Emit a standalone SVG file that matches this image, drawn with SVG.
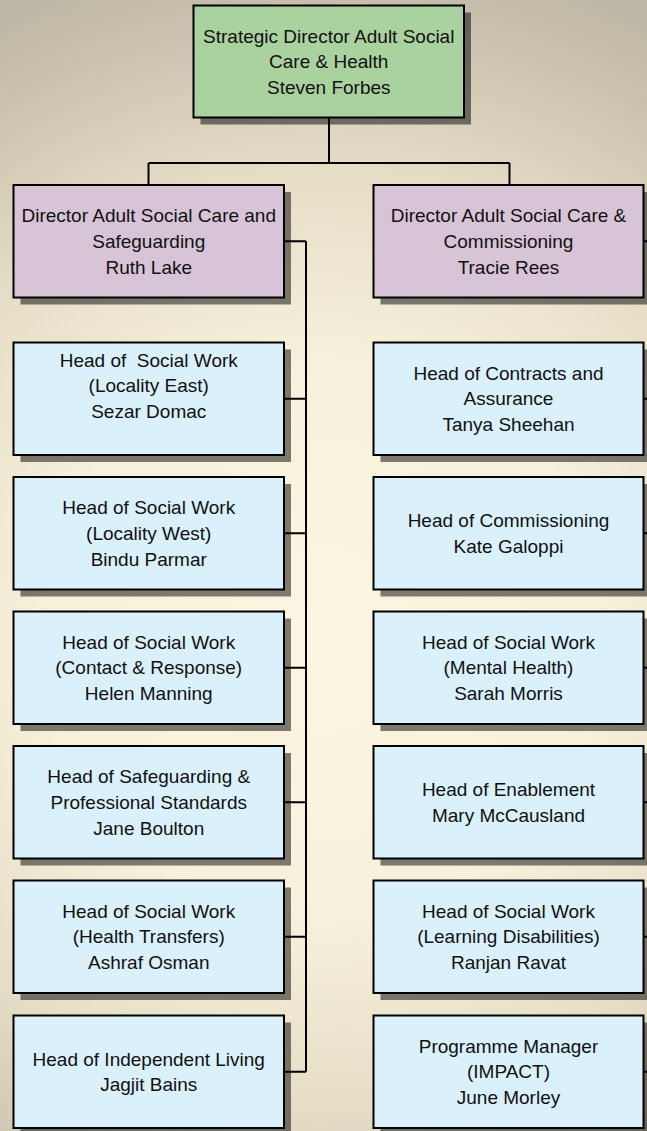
<svg xmlns="http://www.w3.org/2000/svg" width="647" height="1131" viewBox="0 0 647 1131">
<defs>
<radialGradient id="bg" gradientUnits="userSpaceOnUse" cx="323" cy="640" r="700">
<stop offset="0" stop-color="#fcf5e1"/>
<stop offset="0.4" stop-color="#f7f0da"/>
<stop offset="0.67" stop-color="#e5ddc6"/>
<stop offset="0.75" stop-color="#dbd3bd"/>
<stop offset="0.9" stop-color="#c9c1ae"/>
<stop offset="1" stop-color="#bfb7a5"/>
</radialGradient>
<style>
.sh{fill:#000;fill-opacity:0.5}
.bx{stroke:#000;stroke-width:2}
.g{fill:#aad29f}
.p{fill:#d7c4d6}
.b{fill:#daf0fb}
text{font-family:"Liberation Sans",Arial,sans-serif;font-size:19px;fill:#111;text-anchor:middle;white-space:pre}
.c{fill:none;stroke:#000;stroke-width:2}
</style>
</defs>
<rect width="647" height="1131" fill="url(#bg)"/>

<g id="connectors" class="c">
<path d="M329 117.5V163M148.5 163H509.5M148.5 163V185M509.5 163V185"/>
<path d="M306 241.25V1071.75"/>
<path d="M284 241.25H306M284 398.75H306M284 533.25H306M284 667.75H306M284 802.25H306M284 936.75H306M284 1071.75H306"/>
<path d="M643.5 241.25H647M643.5 398.75H647M643.5 533.25H647M643.5 667.75H647M643.5 802.25H647M643.5 936.75H647M643.5 1071.75H647"/>
</g>

<g id="n-strategic">
<rect class="sh" x="200.5" y="12.5" width="270.5" height="112"/>
<rect class="bx g" x="193.5" y="5.5" width="270.5" height="112"/>
<text x="328.75" y="42.5">Strategic Director Adult Social</text>
<text x="328.75" y="68.2">Care &amp; Health</text>
<text x="328.75" y="93.9">Steven Forbes</text>
</g>

<g id="n-dir-left">
<rect class="sh" x="20.5" y="192" width="270.5" height="112.5"/>
<rect class="bx p" x="13.5" y="185" width="270.5" height="112.5"/>
<text x="148.75" y="222.3">Director Adult Social Care and</text>
<text x="148.75" y="248">Safeguarding</text>
<text x="148.75" y="273.7">Ruth Lake</text>
</g>

<g id="n-dir-right">
<rect class="sh" x="380.5" y="192" width="270" height="112.5"/>
<rect class="bx p" x="373.5" y="185" width="270" height="112.5"/>
<text x="508.5" y="222.3">Director Adult Social Care &amp;</text>
<text x="508.5" y="248">Commissioning</text>
<text x="508.5" y="273.7">Tracie Rees</text>
</g>

<g id="n-l1">
<rect class="sh" x="20.5" y="349.5" width="270.5" height="112.5"/>
<rect class="bx b" x="13.5" y="342.5" width="270.5" height="112.5"/>
<text x="148.75" y="366.75">Head of  Social Work</text>
<text x="148.75" y="392.4">(Locality East)</text>
<text x="148.75" y="418.1">Sezar Domac</text>
</g>

<g id="n-l2">
<rect class="sh" x="20.5" y="484" width="270.5" height="112.5"/>
<rect class="bx b" x="13.5" y="477" width="270.5" height="112.5"/>
<text x="148.75" y="514.25">Head of Social Work</text>
<text x="148.75" y="539.95">(Locality West)</text>
<text x="148.75" y="565.65">Bindu Parmar</text>
</g>

<g id="n-l3">
<rect class="sh" x="20.5" y="618.5" width="270.5" height="112.5"/>
<rect class="bx b" x="13.5" y="611.5" width="270.5" height="112.5"/>
<text x="148.75" y="648.75">Head of Social Work</text>
<text x="148.75" y="674.45">(Contact &amp; Response)</text>
<text x="148.75" y="700.15">Helen Manning</text>
</g>

<g id="n-l4">
<rect class="sh" x="20.5" y="753" width="270.5" height="112.5"/>
<rect class="bx b" x="13.5" y="746" width="270.5" height="112.5"/>
<text x="148.75" y="783.25">Head of Safeguarding &amp;</text>
<text x="148.75" y="808.95">Professional Standards</text>
<text x="148.75" y="834.65">Jane Boulton</text>
</g>

<g id="n-l5">
<rect class="sh" x="20.5" y="887.5" width="270.5" height="112.5"/>
<rect class="bx b" x="13.5" y="880.5" width="270.5" height="112.5"/>
<text x="148.75" y="917.75">Head of Social Work</text>
<text x="148.75" y="943.45">(Health Transfers)</text>
<text x="148.75" y="969.15">Ashraf Osman</text>
</g>

<g id="n-l6">
<rect class="sh" x="20.5" y="1022.5" width="270.5" height="112.5"/>
<rect class="bx b" x="13.5" y="1015.5" width="270.5" height="112.5"/>
<text x="148.75" y="1065.55">Head of Independent Living</text>
<text x="148.75" y="1091.25">Jagjit Bains</text>
</g>

<g id="n-r1">
<rect class="sh" x="380.5" y="349.5" width="270" height="112.5"/>
<rect class="bx b" x="373.5" y="342.5" width="270" height="112.5"/>
<text x="508.5" y="379.75">Head of Contracts and</text>
<text x="508.5" y="405.45">Assurance</text>
<text x="508.5" y="431.15">Tanya Sheehan</text>
</g>

<g id="n-r2">
<rect class="sh" x="380.5" y="484" width="270" height="112.5"/>
<rect class="bx b" x="373.5" y="477" width="270" height="112.5"/>
<text x="508.5" y="527.05">Head of Commissioning</text>
<text x="508.5" y="552.75">Kate Galoppi</text>
</g>

<g id="n-r3">
<rect class="sh" x="380.5" y="618.5" width="270" height="112.5"/>
<rect class="bx b" x="373.5" y="611.5" width="270" height="112.5"/>
<text x="508.5" y="648.75">Head of Social Work</text>
<text x="508.5" y="674.45">(Mental Health)</text>
<text x="508.5" y="700.15">Sarah Morris</text>
</g>

<g id="n-r4">
<rect class="sh" x="380.5" y="753" width="270" height="112.5"/>
<rect class="bx b" x="373.5" y="746" width="270" height="112.5"/>
<text x="508.5" y="796.05">Head of Enablement</text>
<text x="508.5" y="821.75">Mary McCausland</text>
</g>

<g id="n-r5">
<rect class="sh" x="380.5" y="887.5" width="270" height="112.5"/>
<rect class="bx b" x="373.5" y="880.5" width="270" height="112.5"/>
<text x="508.5" y="917.75">Head of Social Work</text>
<text x="508.5" y="943.45">(Learning Disabilities)</text>
<text x="508.5" y="969.15">Ranjan Ravat</text>
</g>

<g id="n-r6">
<rect class="sh" x="380.5" y="1022.5" width="270" height="112.5"/>
<rect class="bx b" x="373.5" y="1015.5" width="270" height="112.5"/>
<text x="508.5" y="1052.75">Programme Manager</text>
<text x="508.5" y="1078.45">(IMPACT)</text>
<text x="508.5" y="1104.15">June Morley</text>
</g>
</svg>
